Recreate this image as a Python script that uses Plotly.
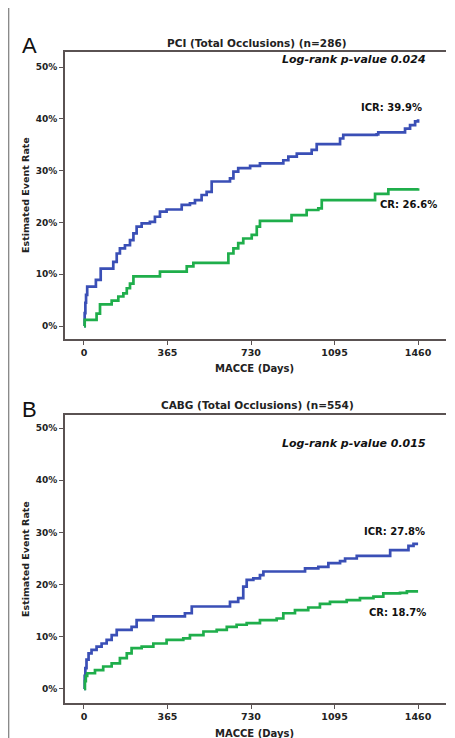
import plotly.graph_objects as go

# ---------------- data ----------------
x_ticks = [0, 365, 730, 1095, 1460]
y_ticks = [0, 10, 20, 30, 40, 50]
y_tick_labels = ["0%", "10%", "20%", "30%", "40%", "50%"]

pci_icr_days = [0, 3, 6, 9, 14, 52, 73, 128, 143, 157, 179, 201, 216, 230, 252, 288, 310, 332, 361,
                427, 463, 485, 514, 536, 558, 638, 653, 674, 726, 769, 871, 893, 930, 995, 1017,
                1119, 1133, 1279, 1286, 1403, 1425, 1447, 1460]
pci_icr_rate = [0, 2.5, 4.5, 6.0, 7.6, 8.9, 11.1, 12.4, 14.0, 15.0, 15.6, 16.6, 17.9, 19.2, 19.8, 20.1, 21.1, 22.1, 22.5,
                23.4, 23.7, 24.3, 25.3, 25.9, 27.9, 28.5, 29.8, 30.5, 30.9, 31.4, 32.0, 32.7, 33.3, 34.0, 35.1,
                36.2, 36.9, 37.0, 37.4, 38.1, 38.8, 39.5, 39.9]

pci_cr_days = [0, 3, 55, 70, 121, 150, 172, 187, 201, 216, 332, 449, 478, 631, 653, 674, 696, 733, 755,
               769, 907, 973, 1024, 1039, 1272, 1330, 1460]
pci_cr_rate = [0, 1.2, 2.4, 4.2, 4.9, 5.7, 6.3, 7.3, 8.2, 9.6, 10.5, 11.5, 12.2, 14.0, 15.0, 16.0, 16.9, 17.6, 19.2,
               20.3, 21.4, 22.4, 22.7, 24.3, 25.5, 26.4, 26.6]

cabg_icr_days = [0, 3, 6, 11, 20, 33, 55, 77, 99, 121, 143, 208, 230, 303, 441, 471, 638, 674, 696, 711,
                 740, 769, 784, 966, 1024, 1068, 1119, 1141, 1192, 1338, 1418, 1440, 1460]
cabg_icr_rate = [0, 2.5, 4.0, 5.6, 6.8, 7.5, 8.1, 8.7, 9.4, 10.3, 11.3, 11.9, 13.2, 13.9, 14.5, 15.8, 16.7, 17.4, 19.6, 20.9,
                 21.2, 21.8, 22.5, 23.1, 23.4, 24.1, 24.5, 25.0, 25.5, 26.6, 27.4, 27.8, 27.8]

cabg_cr_days = [0, 4, 8, 14, 48, 84, 121, 157, 187, 208, 252, 303, 361, 434, 463, 522, 580, 624, 667, 711,
                769, 842, 871, 922, 980, 1031, 1075, 1148, 1206, 1265, 1308, 1381, 1411, 1460]
cabg_cr_rate = [0, 1.5, 2.5, 3.0, 3.6, 4.3, 4.9, 5.9, 6.8, 7.8, 8.1, 8.7, 9.4, 9.7, 10.3, 11.0, 11.3, 11.9, 12.3, 12.6,
                13.2, 13.5, 14.5, 15.1, 15.6, 16.3, 16.7, 17.0, 17.4, 17.7, 18.3, 18.4, 18.7, 18.7]

panel_titles = ["PCI (Total Occlusions) (n=286)", "CABG (Total Occlusions) (n=554)"]
panel_letters = ["A", "B"]
pvalues = ["Log-rank p-value 0.024", "Log-rank p-value 0.015"]
icr_labels = ["ICR: 39.9%", "ICR: 27.8%"]
cr_labels = ["CR: 26.6%", "CR: 18.7%"]

# ---------------- layout helpers ----------------
W, H = 455, 738
OFF = 8  # page body margin: figure starts 8px right/down of window corner
BLUE = "#3a4fb6"
GREEN = "#1fae4b"
AXC = "#5a5252"
FONT = "DejaVu Sans"


def px_x(p):
    return (p - OFF) / W


def px_y(p):
    return 1 - (p - OFF) / H


fig = go.Figure()

fig.add_trace(go.Scatter(x=pci_icr_days, y=pci_icr_rate, mode="lines", line=dict(color=BLUE, width=2.7, shape="hv"),
                         xaxis="x", yaxis="y", showlegend=False))
fig.add_trace(go.Scatter(x=pci_cr_days, y=pci_cr_rate, mode="lines", line=dict(color=GREEN, width=2.7, shape="hv"),
                         xaxis="x", yaxis="y", showlegend=False))
fig.add_trace(go.Scatter(x=cabg_icr_days, y=cabg_icr_rate, mode="lines", line=dict(color=BLUE, width=2.7, shape="hv"),
                         xaxis="x2", yaxis="y2", showlegend=False))
fig.add_trace(go.Scatter(x=cabg_cr_days, y=cabg_cr_rate, mode="lines", line=dict(color=GREEN, width=2.7, shape="hv"),
                         xaxis="x2", yaxis="y2", showlegend=False))

xdom = [px_x(65), px_x(446)]
common_x = dict(range=[-83, 1582], tickvals=x_ticks, ticks="outside", ticklen=4, tickwidth=1.2, tickcolor=AXC,
                showline=True, linecolor=AXC, linewidth=1.6, mirror=True, showgrid=False, zeroline=False,
                tickfont=dict(family=FONT, size=9.5, color="#222", weight="bold"), domain=xdom)
common_y = dict(tickvals=y_ticks, ticktext=y_tick_labels, ticks="outside", ticklen=4, tickwidth=1.2, tickcolor=AXC,
                showline=True, linecolor=AXC, linewidth=1.6, showgrid=False, zeroline=False, ticklabelstandoff=0,
                tickfont=dict(family=FONT, size=9, color="#222", weight="bold"))

fig.update_layout(
    width=W, height=H,
    margin=dict(l=0, r=0, t=0, b=0),
    paper_bgcolor="white", plot_bgcolor="white",
    xaxis=dict(common_x, anchor="y"),
    yaxis=dict(common_y, range=[-2.5, 52.9], domain=[px_y(339), px_y(52)], anchor="x"),
    xaxis2=dict(common_x, anchor="y2"),
    yaxis2=dict(common_y, range=[-2.7, 52.5], domain=[px_y(703), px_y(415)], anchor="x2"),
)

tfont = dict(family=FONT, size=10.5, color="#222", weight="bold")
xtfont = dict(family=FONT, size=10, color="#222", weight="bold")
ann = []
# panel titles, letters, axis titles
for i, (ty, ly, xt, yt) in enumerate([(43, 46, 369, 195), (405, 409, 733, 559)]):
    ann.append(dict(x=px_x(257), y=px_y(ty), xref="paper", yref="paper", text=panel_titles[i], showarrow=False,
                    font=tfont, xanchor="center", yanchor="middle"))
    ann.append(dict(x=px_x(29), y=px_y(ly), xref="paper", yref="paper", text=panel_letters[i], showarrow=False,
                    font=dict(family="Liberation Sans", size=22, color="#111"), xanchor="center", yanchor="middle"))
    ann.append(dict(x=px_x(255), y=px_y(xt), xref="paper", yref="paper", text="MACCE (Days)", showarrow=False,
                    font=xtfont, xanchor="center", yanchor="middle"))
    ann.append(dict(x=px_x(25), y=px_y(yt), xref="paper", yref="paper", text="Estimated Event Rate", showarrow=False,
                    font=dict(family=FONT, size=9.5, color="#222", weight="bold"), textangle=-90,
                    xanchor="center", yanchor="middle"))

pfont = dict(family=FONT, size=11, color="#111", weight="bold", style="italic")
lfont = dict(family=FONT, size=10, color="#111", weight="bold")
ann.append(dict(x=1504, y=51.5, xref="x", yref="y", text=pvalues[0], showarrow=False, font=pfont,
                xanchor="right", yanchor="middle"))
ann.append(dict(x=1504, y=47.1, xref="x2", yref="y2", text=pvalues[1], showarrow=False, font=pfont,
                xanchor="right", yanchor="middle"))
ann.append(dict(x=1342, y=42.1, xref="x", yref="y", text=icr_labels[0], showarrow=False, font=lfont,
                xanchor="center", yanchor="middle"))
ann.append(dict(x=1416, y=23.4, xref="x", yref="y", text=cr_labels[0], showarrow=False, font=lfont,
                xanchor="center", yanchor="middle"))
ann.append(dict(x=1355, y=30.1, xref="x2", yref="y2", text=icr_labels[1], showarrow=False, font=lfont,
                xanchor="center", yanchor="middle"))
ann.append(dict(x=1372, y=14.6, xref="x2", yref="y2", text=cr_labels[1], showarrow=False, font=lfont,
                xanchor="center", yanchor="middle"))
fig.update_layout(annotations=ann)

# thin grey frame line at the left edge of the page
fig.add_shape(type="line", xref="paper", yref="paper", x0=0.6 / W, x1=0.6 / W, y0=0, y1=1,
              line=dict(color="#8a8a8a", width=1.5))

fig.write_html("out.html")
